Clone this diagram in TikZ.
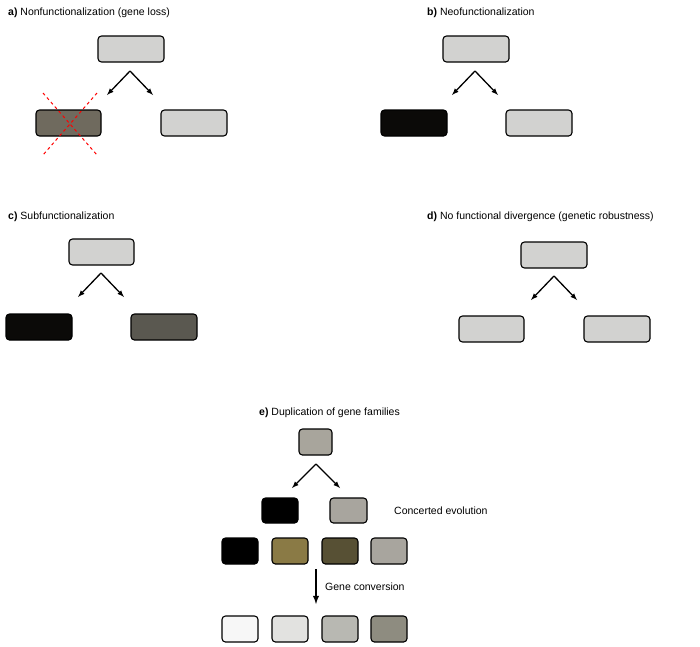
\documentclass[tikz,border=0pt]{standalone}
\usepackage{fontspec}
\setmainfont{Liberation Sans}
\definecolor{lg}{HTML}{D2D2D0}
\definecolor{ca}{HTML}{6F6A5E}
\definecolor{cb}{HTML}{0B0A08}
\definecolor{cc}{HTML}{5A5850}
\definecolor{ce}{HTML}{A8A59C}
\definecolor{cf}{HTML}{A8A59E}
\definecolor{cg}{HTML}{8A7A45}
\definecolor{ch}{HTML}{575034}
\definecolor{g1c}{HTML}{F7F7F7}
\definecolor{g2c}{HTML}{E2E2E0}
\definecolor{g3c}{HTML}{B8B8B2}
\definecolor{g4c}{HTML}{8E8C80}
\begin{document}
\begin{tikzpicture}[x=1pt,y=-1pt,
 gene/.style={draw=black,line width=1.1pt,rounded corners=3.5pt,inner sep=0pt},
 arr/.style={-latex,line width=1.3pt},
 lab/.style={anchor=west,inner sep=0pt,font=\fontsize{10.5}{12}\selectfont}]
\useasboundingbox (0,0) rectangle (700,646);
\newcommand{\gbox}[6]{\node[gene,fill=#6,minimum width=#3-#2,minimum height=#5-#4] (#1) at ({(#2+#3)/2},{(#4+#5)/2}) {};}
% a
\node[lab] (ta) at (8,13) {\textbf{a)} Nonfunctionalization (gene loss)};
\gbox{a0}{98}{164}{36}{62}{lg}
\gbox{a1}{36}{101}{110}{136}{ca}
\gbox{a2}{161}{227}{110}{136}{lg}
\coordinate (pa) at (130,71);
\draw[arr] (pa) -- (107,95); \draw[arr] (pa) -- (153,95);
\draw[red,dashed,line width=1pt] (43,93) -- (97,155) (97,93) -- (43,155);
% b
\node[lab] (tb) at (427,13) {\textbf{b)} Neofunctionalization};
\gbox{b0}{443}{509}{36}{62}{lg}
\gbox{b1}{381}{447}{110}{136}{cb}
\gbox{b2}{506}{572}{110}{136}{lg}
\coordinate (pb) at (475,71);
\draw[arr] (pb) -- (452,95); \draw[arr] (pb) -- (498,95);
% c
\node[lab] (tc) at (8,217) {\textbf{c)} Subfunctionalization};
\gbox{c0}{69}{134}{239}{265}{lg}
\gbox{c1}{6}{72}{314}{340}{cb}
\gbox{c2}{131}{197}{314}{340}{cc}
\coordinate (pc) at (101,273);
\draw[arr] (pc) -- (78,297); \draw[arr] (pc) -- (124,297);
% d
\node[lab] (td) at (427,217) {\textbf{d)} No functional divergence (genetic robustness)};
\gbox{d0}{521}{587}{242}{268}{lg}
\gbox{d1}{459}{524}{316}{342}{lg}
\gbox{d2}{584}{650}{316}{342}{lg}
\coordinate (pd) at (554,276);
\draw[arr] (pd) -- (531,300); \draw[arr] (pd) -- (577,300);
% e
\node[lab] (te) at (259,413) {\textbf{e)} Duplication of gene families};
\gbox{e0}{299}{332}{429}{455}{ce}
\coordinate (pe) at (316,464);
\draw[arr] (pe) -- (292,488); \draw[arr] (pe) -- (340,488);
\gbox{e1}{262}{298}{498}{523}{black}
\gbox{e2}{330}{367}{498}{523}{cf}
\node[lab] (cev) at (394,511) {Concerted evolution};
\gbox{f1}{222}{258}{538}{564}{black}
\gbox{f2}{272}{308}{538}{564}{cg}
\gbox{f3}{322}{358}{538}{564}{ch}
\gbox{f4}{371}{407}{538}{564}{cf}
\coordinate (gs) at (316,569); \coordinate (ge) at (316,604);
\draw[-latex,line width=1.8pt] (gs) -- (ge);
\node[lab] (gc) at (325,587) {Gene conversion};
\gbox{g1}{222}{258}{616}{642}{g1c}
\gbox{g2}{272}{308}{616}{642}{g2c}
\gbox{g3}{322}{358}{616}{642}{g3c}
\gbox{g4}{371}{407}{616}{642}{g4c}
\end{tikzpicture}
\end{document}
